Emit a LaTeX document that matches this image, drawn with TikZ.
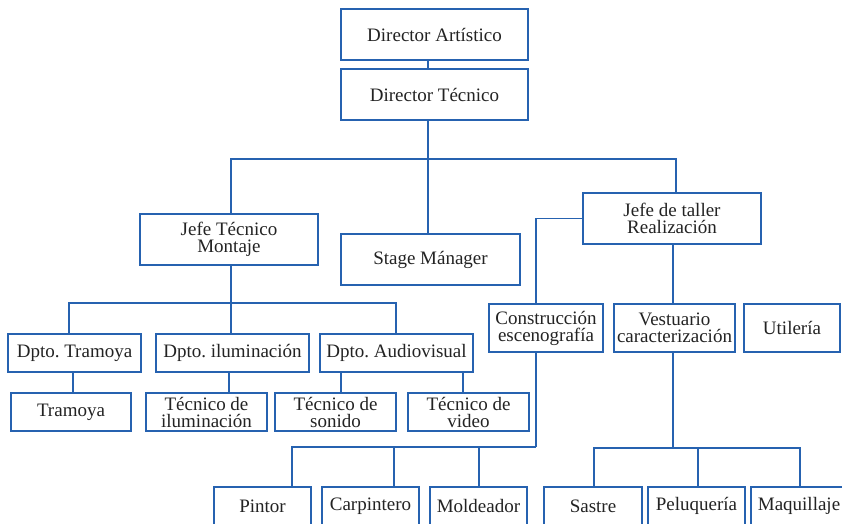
\documentclass[tikz,border=0pt]{standalone}
\usepackage{fontspec}
\setmainfont{Liberation Serif}
\usetikzlibrary{backgrounds}
\definecolor{azulorg}{RGB}{38,98,176}
\definecolor{texto}{RGB}{35,35,35}
\tikzset{
  cargo/.style={draw=azulorg, line width=1.3pt, fill=white, inner sep=0pt,
    align=center, text=texto, font=\fontsize{19}{17}\selectfont},
  enlace/.style={draw=azulorg, line width=1.2pt}
}

\begin{document}
\begin{tikzpicture}[x=1pt,y=-1pt]
  \useasboundingbox (0,0) rectangle (842,523);
  % direccion
  \node[cargo, minimum width=187pt, minimum height=51pt] (da) at (434.5,34.5) {Director Artístico};
  \node[cargo, minimum width=187pt, minimum height=51pt] (dt) at (434.5,94.5) {Director Técnico};
  % jefes
  \node[cargo, minimum width=178pt, minimum height=51pt] (jtm) at (229,239.5) {Jefe Técnico\\Montaje};
  \node[cargo, minimum width=179pt, minimum height=51pt] (sm) at (430.5,259.5) {Stage Mánager};
  \node[cargo, minimum width=178pt, minimum height=51pt] (jdt) at (672,218.5) {Jefe de taller\\Realización};
  % departamentos
  \node[cargo, minimum width=133pt, minimum height=38pt] (dtram) at (74.5,353) {Dpto.\ Tramoya};
  \node[cargo, minimum width=153pt, minimum height=38pt] (dilum) at (232.5,353) {Dpto.\ iluminación};
  \node[cargo, minimum width=153pt, minimum height=38pt] (daud) at (396.5,353) {Dpto.\ Audiovisual};
  \node[cargo, minimum width=114pt, minimum height=48pt] (cons) at (546,328) {Construcción\\escenografía};
  \node[cargo, minimum width=121pt, minimum height=48pt] (vest) at (674.5,328) {Vestuario\\caracterización};
  \node[cargo, minimum width=96pt, minimum height=48pt] (util) at (792,328) {Utilería};
  % tecnicos
  \node[cargo, minimum width=120pt, minimum height=38pt] (tram) at (71,412) {Tramoya};
  \node[cargo, minimum width=121pt, minimum height=38pt] (til) at (206.5,412) {Técnico de\\iluminación};
  \node[cargo, minimum width=121pt, minimum height=38pt] (tso) at (335.5,412) {Técnico de\\sonido};
  \node[cargo, minimum width=121pt, minimum height=38pt] (tvi) at (468.5,412) {Técnico de\\video};
  % taller
  \node[cargo, minimum width=97pt, minimum height=38pt] (pin) at (262.5,506) {Pintor};
  \node[cargo, minimum width=97pt, minimum height=38pt] (car) at (370.5,506) {Carpintero};
  \node[cargo, minimum width=97pt, minimum height=38pt] (mol) at (478.5,506) {Moldeador};
  \node[cargo, minimum width=98pt, minimum height=38pt] (sas) at (593,506) {Sastre};
  \node[cargo, minimum width=97pt, minimum height=38pt] (pel) at (696.5,506) {Peluquería};
  \node[cargo, minimum width=96pt, minimum height=38pt] (maq) at (799,506) {Maquillaje};

  \coordinate (b1) at (428,159);
  \coordinate (b2) at (231,303);
  \coordinate (b3) at (536,447);
  \coordinate (b4) at (673,448);

  \begin{scope}[on background layer]
    \draw[enlace] ([xshift=-6.5pt]da.south) -- ([xshift=-6.5pt]dt.north);
    \draw[enlace] ([xshift=-6.5pt]dt.south) -- (b1);
    \draw[enlace] ([xshift=2pt]jtm.north) |- (b1) -| ([xshift=4pt]jdt.north);
    \draw[enlace] (b1) -- ([xshift=-2.5pt]sm.north);
    % montaje
    \draw[enlace] ([xshift=2pt]jtm.south) -- (b2);
    \draw[enlace] ([xshift=-5.5pt]dtram.north) |- (b2) -| ([xshift=-0.5pt]daud.north);
    \draw[enlace] ([xshift=-1.5pt]dilum.north) -- (b2);
    \draw[enlace] ([xshift=-1.5pt]dtram.south) -- ([xshift=2pt]tram.north);
    \draw[enlace] ([xshift=-3.5pt]dilum.south) -- ([xshift=22.5pt]til.north);
    \draw[enlace] ([xshift=-55.5pt]daud.south) -- ([xshift=5.5pt]tso.north);
    \draw[enlace] ([xshift=66.5pt]daud.south) -- ([xshift=-5.5pt]tvi.north);
    % realizacion
    \draw[enlace] (jdt.west) -| (b3);
    \draw[enlace] ([xshift=29.5pt]pin.north) |- (b3);
    \draw[enlace] ([xshift=23.5pt]car.north) -- +(0,-40);
    \draw[enlace] ([xshift=0.5pt]mol.north) -- +(0,-40);
    \draw[enlace] ([xshift=1pt]jdt.south) -- ([xshift=-1.5pt]vest.north);
    \draw[enlace] ([xshift=-1.5pt]vest.south) -- (b4);
    \draw[enlace] ([xshift=1pt]sas.north) |- (b4) -| ([xshift=1pt]maq.north);
    \draw[enlace] ([xshift=1.5pt]pel.north) -- +(0,-39);
  \end{scope}
\end{tikzpicture}
\end{document}
